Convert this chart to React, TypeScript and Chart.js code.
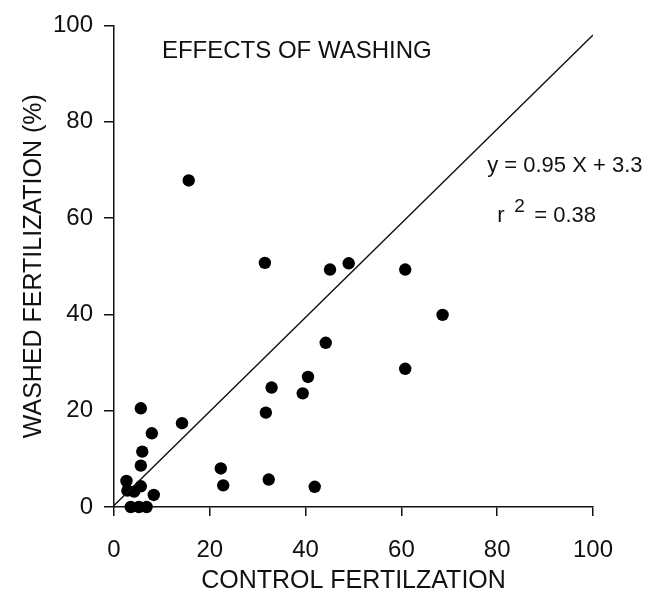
import React, { useEffect, useRef } from "react";
import { Chart, registerables } from "chart.js";

Chart.register(...registerables);

// Control fertilization (%) for each sample
const controlX = [
  15.6, 31.5, 45.1, 49.0, 60.8, 68.6, 44.2, 40.5, 32.9, 39.4, 31.7, 60.8,
  22.3, 22.8, 32.3, 41.9, 5.6, 14.2, 7.9, 5.9, 5.6, 2.6, 2.8, 4.2, 5.6, 3.5,
  5.2, 6.8, 8.3,
];
// Washed fertilization (%) for each sample
const washedY = [
  67.8, 50.7, 49.3, 50.6, 49.3, 39.9, 34.1, 27.0, 24.8, 23.6, 19.6, 28.7,
  8.0, 4.5, 5.7, 4.2, 20.5, 17.4, 15.3, 11.5, 8.6, 5.4, 3.4, 3.2, 4.3, 0,
  0, 0, 2.5,
];
// Regression line end points (as drawn)
const fitX = [0, 100];
const fitY = [0.3, 98];

const xTickValues = [0, 20, 40, 60, 80, 100];
const yTickValues = [0, 20, 40, 60, 80, 100];

const xTitle = "CONTROL FERTILZATION";
const yTitle = "WASHED FERTILIZATION (%)";
const plotTitle = "EFFECTS OF WASHING";
const equationText = "y = 0.95 X + 3.3";
const rText = "r";
const rSup = "2";
const rValueText = "= 0.38";

const FONT = '"Liberation Sans", Arial, Helvetica, sans-serif';
const INK = "#111";

const textPlugin = {
  id: "annotTexts",
  afterDraw(chart: any) {
    const { ctx, scales } = chart;
    const xs = scales.x;
    const ys = scales.y;
    ctx.save();
    ctx.fillStyle = INK;
    ctx.textAlign = "left";
    ctx.textBaseline = "middle";
    ctx.font = `24px ${FONT}`;
    ctx.fillText(plotTitle, xs.getPixelForValue(10), ys.getPixelForValue(94.7));
    ctx.font = `22px ${FONT}`;
    ctx.fillText(equationText, xs.getPixelForValue(77.9), ys.getPixelForValue(70.8));
    const rx = xs.getPixelForValue(80);
    const ry = ys.getPixelForValue(60.4);
    ctx.fillText(rText, rx, ry);
    ctx.font = `19px ${FONT}`;
    ctx.fillText(rSup, rx + 17, ry - 9);
    ctx.font = `22px ${FONT}`;
    ctx.fillText(rValueText, rx + 37, ry);
    ctx.restore();
  },
};

export default function App() {
  const ref = useRef<HTMLCanvasElement | null>(null);
  useEffect(() => {
    if (!ref.current) return;
    const points = controlX.map((x, i) => ({ x, y: washedY[i] }));
    const fit = fitX.map((x, i) => ({ x, y: fitY[i] }));
    const chart = new Chart(ref.current, {
      type: "scatter",
      data: {
        datasets: [
          {
            type: "line",
            data: fit,
            borderColor: INK,
            borderWidth: 1.4,
            pointRadius: 0,
            fill: false,
            tension: 0,
          } as any,
          {
            data: points,
            backgroundColor: "#000",
            borderColor: "#000",
            pointRadius: 6.2,
            borderWidth: 0,
            clip: false,
          } as any,
        ],
      },
      options: {
        animation: false,
        responsive: false,
        devicePixelRatio: 1,
        layout: { padding: { top: 20, right: 75, left: 0, bottom: 0 } },
        plugins: {
          legend: { display: false },
          tooltip: { enabled: false },
          title: { display: false },
        },
        scales: {
          x: {
            type: "linear",
            min: 0,
            max: 100,
            afterBuildTicks: (s: any) => {
              s.ticks = xTickValues.map((v) => ({ value: v }));
            },
            afterFit: (s: any) => {
              s.height = 94;
            },
            ticks: {
              color: INK,
              padding: 20,
              font: { size: 24, family: FONT },
            },
            grid: {
              display: true,
              drawOnChartArea: false,
              tickLength: 9,
              color: INK,
              lineWidth: 1.5,
            },
            border: { display: true, color: INK, width: 1.5 },
            title: {
              display: true,
              text: xTitle,
              color: INK,
              font: { size: 25, family: FONT },
              padding: { top: 0, bottom: 5 },
            },
          },
          y: {
            type: "linear",
            min: 0,
            max: 100,
            afterBuildTicks: (s: any) => {
              s.ticks = yTickValues.map((v) => ({ value: v }));
            },
            afterFit: (s: any) => {
              s.width = 114;
            },
            ticks: {
              color: INK,
              padding: 11,
              font: { size: 24, family: FONT },
            },
            grid: {
              display: true,
              drawOnChartArea: false,
              tickLength: 10,
              color: INK,
              lineWidth: 1.5,
            },
            border: { display: true, color: INK, width: 1.5 },
            title: {
              display: true,
              text: yTitle,
              color: INK,
              font: { size: 25, family: FONT },
              padding: { top: 19, bottom: 0 },
            },
          },
        },
      },
      plugins: [textPlugin],
    } as any);
    return () => chart.destroy();
  }, []);
  return (
    <div style={{ position: "fixed", left: 0, top: 0, width: 668, height: 601, background: "#fff" }}>
      <canvas ref={ref} width={668} height={601} />
    </div>
  );
}
